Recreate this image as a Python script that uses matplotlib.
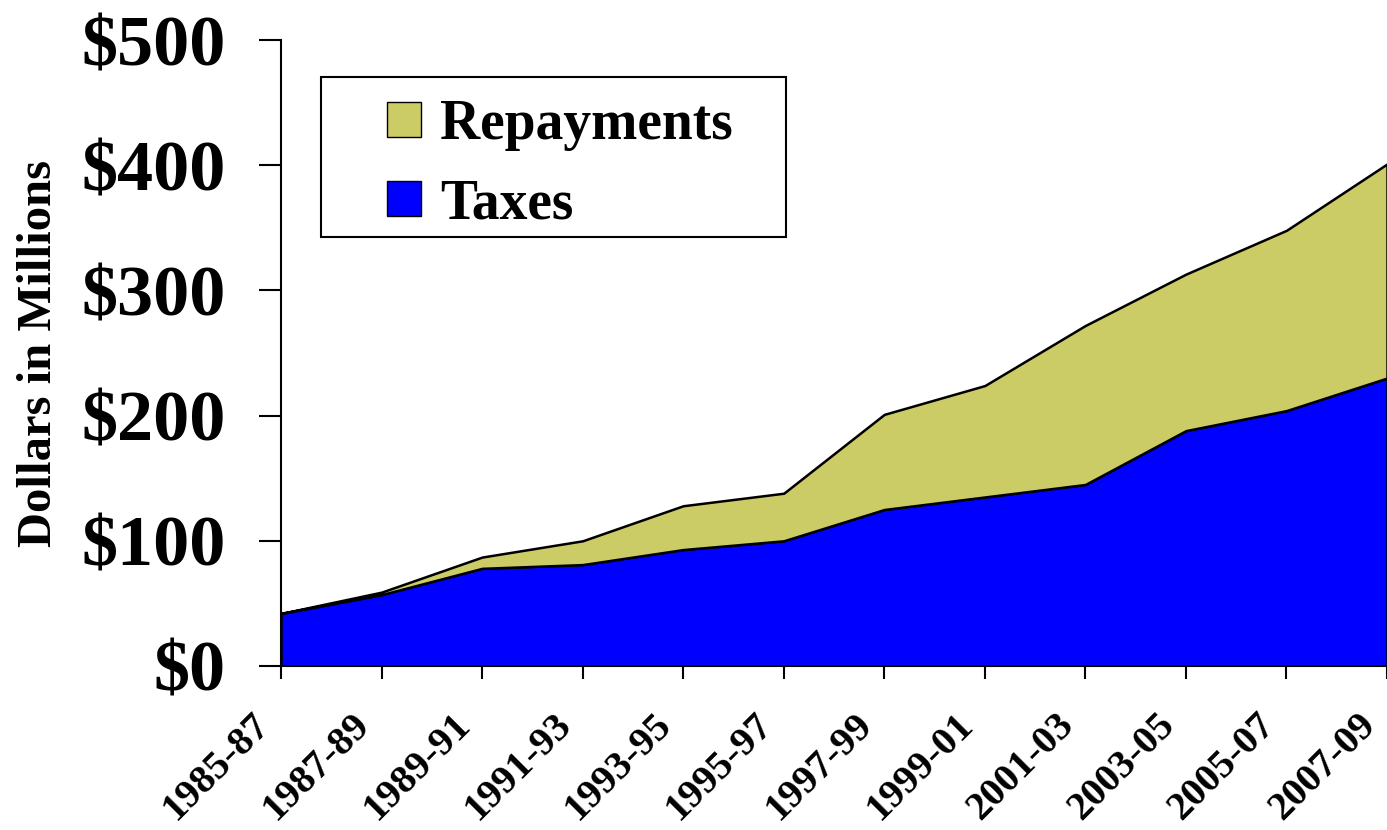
import matplotlib
matplotlib.use("Agg")
import matplotlib.pyplot as plt
from matplotlib.patches import Patch, Rectangle

periods = ["1985-87", "1987-89", "1989-91", "1991-93", "1993-95", "1995-97",
           "1997-99", "1999-01", "2001-03", "2003-05", "2005-07", "2007-09"]
taxes = [42, 57, 78, 81, 93, 100, 125, 135, 145, 188, 204, 230]
totals = [42, 59, 87, 100, 128, 138, 201, 224, 272, 313, 348, 401]
repayments = [t - x for t, x in zip(totals, taxes)]

plt.rcParams['font.family'] = ['Liberation Serif', 'DejaVu Serif']
plt.rcParams['font.weight'] = 'bold'

fig = plt.figure(figsize=(13.87, 8.3), dpi=100)
ax = fig.add_axes([0.2026, 0.1976, 0.7974, 0.7542])

x = list(range(len(periods)))
blue = "#0000FF"
olive = "#CCCC66"
ax.stackplot(x, taxes, repayments, colors=[blue, olive],
             edgecolor="black", linewidth=1.8)

ax.set_yticks(range(0, 501, 100))
ax.set_yticklabels(["$%d" % v for v in range(0, 501, 100)], fontsize=52, fontweight='bold')

ax.set_xticks(x)
ax.set_xticklabels([])
# period labels sit a little left of their tick, like the original
for i, p in zip(x, periods):
    ax.annotate(p, xy=(i, 0), xycoords=('data', 'axes fraction'),
                xytext=(-30, -40), textcoords='offset pixels',
                rotation=45, ha='right', va='top', rotation_mode='anchor',
                fontsize=29, fontweight='bold', annotation_clip=False)

ax.set_xlim(0, len(periods) - 1)
ax.set_ylim(0, 500)

for s in ['top', 'right']:
    ax.spines[s].set_visible(False)
for s in ['left', 'bottom']:
    ax.spines[s].set_linewidth(1.5)
ax.tick_params(axis='y', length=16, width=1.5, pad=24)
ax.tick_params(axis='x', length=9, width=1.5)

ax.set_ylabel("Dollars in Millions", fontsize=35, fontweight='bold')
ax.yaxis.set_label_coords(-0.199, 0.5)

# legend: frame drawn by hand, entries via fig.legend
fig.patches.append(Rectangle((321 / 1387, 1 - 237 / 830), 465 / 1387, 160 / 830,
                             transform=fig.transFigure, facecolor='white',
                             edgecolor='black', linewidth=1.5, zorder=5))
handles = [Patch(facecolor=olive, edgecolor='black', label="Repayments"),
           Patch(facecolor=blue, edgecolor='black', label="Taxes")]
leg = fig.legend(handles=handles, loc='upper left', bbox_to_anchor=(387 / 1387, 1 - 99 / 830),
                 bbox_transform=fig.transFigure, borderaxespad=0, borderpad=0,
                 frameon=False, prop={'size': 40, 'weight': 'bold'},
                 handlelength=0.61, handleheight=0.61, handletextpad=0.34,
                 labelspacing=0.49)
leg.set_zorder(6)

fig.savefig("out.png", dpi=100)
